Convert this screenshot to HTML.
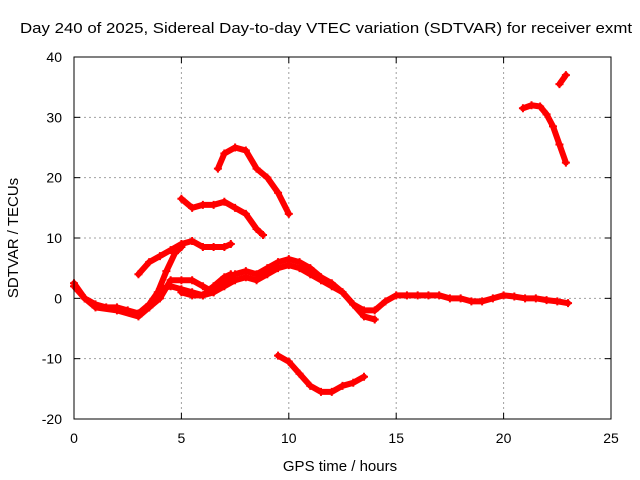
<!DOCTYPE html>
<html><head><meta charset="utf-8"><style>
body{margin:0;background:#fff;}
svg{display:block;font-family:"Liberation Sans",sans-serif;}
</style></head><body>
<svg id="chart" width="640" height="480">
<text x="326" y="33" font-size="15" text-anchor="middle" textLength="612" lengthAdjust="spacingAndGlyphs">Day 240 of 2025, Sidereal Day-to-day VTEC variation (SDTVAR) for receiver exmt</text>
<text x="340" y="471" font-size="15" text-anchor="middle">GPS time / hours</text>
<text transform="translate(18,238) rotate(-90)" font-size="15" text-anchor="middle">SDTVAR / TECUs</text>
<g id="grid"></g><g id="series"></g>
<rect x="74" y="57" width="537" height="362" fill="none" stroke="#000" stroke-width="1"/>
</svg>
<script>
const xTicks=[0,5,10,15,20,25];
const yTicks=[-20,-10,0,10,20,30,40];
const s1t=[0,0.5,1,1.5,2,2.5,3,3.5,4,4.5,5,5.5,6,6.5,7,7.5,8,8.5,9,9.5,10,10.5,11,11.5,12,12.5,13,13.5,14,14.5,15,15.5,16,16.5,17,17.5,18,18.5,19,19.5,20,20.5,21,21.5,22,22.5,23];
const s1v=[2.5,0,-1,-1.5,-1.5,-2,-2.5,-1,1.5,2,1.5,1,0.5,1,2,3,3.5,3,4,5,5.5,5,4,3,2,1,-1,-2,-2,-0.5,0.5,0.5,0.5,0.5,0.5,0,0,-0.5,-0.5,0,0.5,0.3,0,0,-0.3,-0.5,-0.8];
const s2t=[0,0.5,1,2,3,3.5,4,4.5,5,5.5,6,6.5,7,7.5,8,8.5,9,9.5,10,10.5,11,11.5,12,12.5,13,13.5,14];
const s2v=[2,0,-1.5,-2,-3,-1.5,0,3,3,3,2,1,3,4,4.5,4,5,6,6.5,6,5,3.5,2.5,1,-1,-3,-3.5];
const s3t=[3,3.5,4,4.5,5,5.5,6,6.5,7,7.3];
const s3v=[4,6,7,8,9,9.5,8.5,8.5,8.5,9];
const s4t=[3.5,3.9,4.3,4.7,5];
const s4v=[-1.5,1,4.5,7.5,8.5];
const s5t=[5,5.5,6,6.5,7,7.3];
const s5v=[1,0.5,0.5,2,3.5,4];
const s6t=[5,5.5,6,6.5,7,7.5,8,8.5,8.8];
const s6v=[16.5,15,15.5,15.5,16,15,14,11.5,10.5];
const s7t=[6.7,7,7.5,8,8.5,9,9.5,10];
const s7v=[21.5,24,25,24.5,21.5,20,17.5,14];
const s8t=[9.5,10,10.5,11,11.5,12,12.5,13,13.5];
const s8v=[-9.5,-10.5,-12.5,-14.5,-15.5,-15.5,-14.5,-14,-13];
const s9t=[20.9,21.3,21.7,22,22.3,22.6,22.9];
const s9v=[31.5,32,31.8,30.5,28.5,25.5,22.5];
const s10t=[22.6,22.9];
const s10v=[35.5,37];
const X=t=>74+t*(611-74)/25;
const Y=v=>419-(v+20)*(419-57)/60;
const NS="http://www.w3.org/2000/svg";
const grid=document.getElementById('grid'),ser=document.getElementById('series');
function mk(tag,a,p){const e=document.createElementNS(NS,tag);for(const k in a)e.setAttribute(k,a[k]);p.appendChild(e);return e;}
xTicks.forEach(t=>{
 if(t>0&&t<25){const l=mk('line',{x1:X(t),x2:X(t),y1:57,y2:419,stroke:'#a0a0a0','stroke-dasharray':'2,3'},grid);
 
 }
 mk('line',{x1:X(t),x2:X(t),y1:419,y2:413,stroke:'#000'},grid);
 mk('line',{x1:X(t),x2:X(t),y1:57,y2:63,stroke:'#000'},grid);
 const tx=mk('text',{x:X(t),y:443,'font-size':14,'text-anchor':'middle'},grid);tx.textContent=t;
 
 
});
yTicks.forEach(v=>{
 if(v>-20&&v<40){const l=mk('line',{x1:74,x2:611,y1:Y(v),y2:Y(v),stroke:'#a0a0a0','stroke-dasharray':'2,3'},grid);
 
 }
 mk('line',{x1:74,x2:80,y1:Y(v),y2:Y(v),stroke:'#000'},grid);
 mk('line',{x1:605,x2:611,y1:Y(v),y2:Y(v),stroke:'#000'},grid);
 const tx=mk('text',{x:62,y:Y(v)+5,'font-size':14,'text-anchor':'end'},grid);tx.textContent=v;
 
 
});
const all=[[s1t,s1v],[s2t,s2v],[s3t,s3v],[s4t,s4v],[s5t,s5v],[s6t,s6v],[s7t,s7v],[s8t,s8v],[s9t,s9v],[s10t,s10v]];
all.forEach((s,i)=>{
 const pts=s[0].map((t,j)=>X(t)+','+Y(s[1][j])).join(' ');
 const pl=mk('polyline',{points:pts,fill:'none',stroke:'#f00','stroke-width':6,'stroke-linejoin':'round','stroke-linecap':'round'},ser);
 
 
 s[0].forEach((t,j)=>{
  const x=X(t),y=Y(s[1][j]);
  const m=mk('path',{d:`M${x-4},${y}H${x+4}M${x},${y-4}V${y+4}`,stroke:'#f00','stroke-width':2},ser);
  
  
 });
});
</script>
</body></html>
